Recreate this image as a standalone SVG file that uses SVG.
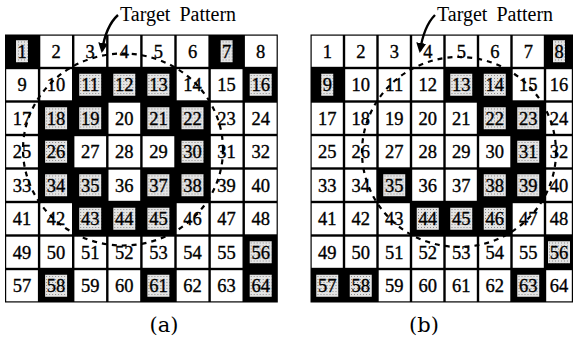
<svg xmlns="http://www.w3.org/2000/svg" width="574" height="351" viewBox="0 0 574 351">
<style>
.bg{fill:#000}
.w{fill:#fff}
.s{fill:url(#st)}
.n{font-family:"Liberation Serif","DejaVu Serif",serif;font-size:18.5px;text-anchor:middle;fill:#000;stroke:#000;stroke-width:0.35}
.lbl{font-family:"Liberation Serif","DejaVu Serif",serif;font-size:20px;fill:#000;word-spacing:4px}
.cap{font-family:"DejaVu Serif","Liberation Serif",serif;font-size:21px;text-anchor:middle;fill:#000}
.circ{fill:none;stroke:#000;stroke-width:2.2;stroke-dasharray:5 5}
.arr{fill:none;stroke:#000;stroke-width:2.4}
</style>
<defs>
<pattern id="st" width="3" height="3" patternUnits="userSpaceOnUse"><rect width="3" height="3" fill="#e4e4e4"/><rect x="1" y="1" width="1" height="1" fill="#8a8a8a"/></pattern>
<marker id="ah" viewBox="0 0 10 10" refX="8" refY="5" markerWidth="4.2" markerHeight="4.2" orient="auto" markerUnits="strokeWidth"><path d="M0,0 L10,5 L0,10 z" fill="#000"/></marker>
</defs>
<rect width="574" height="351" fill="#fff"/>

<!-- Grid (a) -->
<g id="gridA" transform="translate(5,34.5)">
<rect class="bg" width="272.8" height="268"/>
<g id="a1" transform="translate(0,0)"><rect class="s" x="11" y="5.75" width="12" height="22"/><text class="n" x="17" y="23">1</text></g>
<g id="a2" transform="translate(34.1,0)"><rect class="w" x="1.2" y="1.2" width="31.7" height="31.1"/><text class="n" x="17" y="23">2</text></g>
<g id="a3" transform="translate(68.2,0)"><rect class="w" x="1.2" y="1.2" width="31.7" height="31.1"/><text class="n" x="17" y="23">3</text></g>
<g id="a4" transform="translate(102.3,0)"><rect class="w" x="1.2" y="1.2" width="31.7" height="31.1"/><text class="n" x="17" y="23">4</text></g>
<g id="a5" transform="translate(136.4,0)"><rect class="w" x="1.2" y="1.2" width="31.7" height="31.1"/><text class="n" x="17" y="23">5</text></g>
<g id="a6" transform="translate(170.5,0)"><rect class="w" x="1.2" y="1.2" width="31.7" height="31.1"/><text class="n" x="17" y="23">6</text></g>
<g id="a7" transform="translate(204.6,0)"><rect class="s" x="11" y="5.75" width="12" height="22"/><text class="n" x="17" y="23">7</text></g>
<g id="a8" transform="translate(238.7,0)"><rect class="w" x="1.2" y="1.2" width="31.7" height="31.1"/><text class="n" x="17" y="23">8</text></g>

<g id="a9" transform="translate(0,33.5)"><rect class="w" x="1.2" y="1.2" width="31.7" height="31.1"/><text class="n" x="17" y="23">9</text></g>
<g id="a10" transform="translate(34.1,33.5)"><rect class="w" x="1.2" y="1.2" width="31.7" height="31.1"/><text class="n" x="17" y="23">10</text></g>
<g id="a11" transform="translate(68.2,33.5)"><rect class="s" x="6" y="5.75" width="22" height="22"/><text class="n" x="17" y="23">11</text></g>
<g id="a12" transform="translate(102.3,33.5)"><rect class="s" x="6" y="5.75" width="22" height="22"/><text class="n" x="17" y="23">12</text></g>
<g id="a13" transform="translate(136.4,33.5)"><rect class="s" x="6" y="5.75" width="22" height="22"/><text class="n" x="17" y="23">13</text></g>
<g id="a14" transform="translate(170.5,33.5)"><rect class="w" x="1.2" y="1.2" width="31.7" height="31.1"/><text class="n" x="17" y="23">14</text></g>
<g id="a15" transform="translate(204.6,33.5)"><rect class="w" x="1.2" y="1.2" width="31.7" height="31.1"/><text class="n" x="17" y="23">15</text></g>
<g id="a16" transform="translate(238.7,33.5)"><rect class="s" x="6" y="5.75" width="22" height="22"/><text class="n" x="17" y="23">16</text></g>

<g id="a17" transform="translate(0,67)"><rect class="w" x="1.2" y="1.2" width="31.7" height="31.1"/><text class="n" x="17" y="23">17</text></g>
<g id="a18" transform="translate(34.1,67)"><rect class="s" x="6" y="5.75" width="22" height="22"/><text class="n" x="17" y="23">18</text></g>
<g id="a19" transform="translate(68.2,67)"><rect class="s" x="6" y="5.75" width="22" height="22"/><text class="n" x="17" y="23">19</text></g>
<g id="a20" transform="translate(102.3,67)"><rect class="w" x="1.2" y="1.2" width="31.7" height="31.1"/><text class="n" x="17" y="23">20</text></g>
<g id="a21" transform="translate(136.4,67)"><rect class="s" x="6" y="5.75" width="22" height="22"/><text class="n" x="17" y="23">21</text></g>
<g id="a22" transform="translate(170.5,67)"><rect class="s" x="6" y="5.75" width="22" height="22"/><text class="n" x="17" y="23">22</text></g>
<g id="a23" transform="translate(204.6,67)"><rect class="w" x="1.2" y="1.2" width="31.7" height="31.1"/><text class="n" x="17" y="23">23</text></g>
<g id="a24" transform="translate(238.7,67)"><rect class="w" x="1.2" y="1.2" width="31.7" height="31.1"/><text class="n" x="17" y="23">24</text></g>

<g id="a25" transform="translate(0,100.5)"><rect class="w" x="1.2" y="1.2" width="31.7" height="31.1"/><text class="n" x="17" y="23">25</text></g>
<g id="a26" transform="translate(34.1,100.5)"><rect class="s" x="6" y="5.75" width="22" height="22"/><text class="n" x="17" y="23">26</text></g>
<g id="a27" transform="translate(68.2,100.5)"><rect class="w" x="1.2" y="1.2" width="31.7" height="31.1"/><text class="n" x="17" y="23">27</text></g>
<g id="a28" transform="translate(102.3,100.5)"><rect class="w" x="1.2" y="1.2" width="31.7" height="31.1"/><text class="n" x="17" y="23">28</text></g>
<g id="a29" transform="translate(136.4,100.5)"><rect class="w" x="1.2" y="1.2" width="31.7" height="31.1"/><text class="n" x="17" y="23">29</text></g>
<g id="a30" transform="translate(170.5,100.5)"><rect class="s" x="6" y="5.75" width="22" height="22"/><text class="n" x="17" y="23">30</text></g>
<g id="a31" transform="translate(204.6,100.5)"><rect class="w" x="1.2" y="1.2" width="31.7" height="31.1"/><text class="n" x="17" y="23">31</text></g>
<g id="a32" transform="translate(238.7,100.5)"><rect class="w" x="1.2" y="1.2" width="31.7" height="31.1"/><text class="n" x="17" y="23">32</text></g>

<g id="a33" transform="translate(0,134)"><rect class="w" x="1.2" y="1.2" width="31.7" height="31.1"/><text class="n" x="17" y="23">33</text></g>
<g id="a34" transform="translate(34.1,134)"><rect class="s" x="6" y="5.75" width="22" height="22"/><text class="n" x="17" y="23">34</text></g>
<g id="a35" transform="translate(68.2,134)"><rect class="s" x="6" y="5.75" width="22" height="22"/><text class="n" x="17" y="23">35</text></g>
<g id="a36" transform="translate(102.3,134)"><rect class="w" x="1.2" y="1.2" width="31.7" height="31.1"/><text class="n" x="17" y="23">36</text></g>
<g id="a37" transform="translate(136.4,134)"><rect class="s" x="6" y="5.75" width="22" height="22"/><text class="n" x="17" y="23">37</text></g>
<g id="a38" transform="translate(170.5,134)"><rect class="s" x="6" y="5.75" width="22" height="22"/><text class="n" x="17" y="23">38</text></g>
<g id="a39" transform="translate(204.6,134)"><rect class="w" x="1.2" y="1.2" width="31.7" height="31.1"/><text class="n" x="17" y="23">39</text></g>
<g id="a40" transform="translate(238.7,134)"><rect class="w" x="1.2" y="1.2" width="31.7" height="31.1"/><text class="n" x="17" y="23">40</text></g>

<g id="a41" transform="translate(0,167.5)"><rect class="w" x="1.2" y="1.2" width="31.7" height="31.1"/><text class="n" x="17" y="23">41</text></g>
<g id="a42" transform="translate(34.1,167.5)"><rect class="w" x="1.2" y="1.2" width="31.7" height="31.1"/><text class="n" x="17" y="23">42</text></g>
<g id="a43" transform="translate(68.2,167.5)"><rect class="s" x="6" y="5.75" width="22" height="22"/><text class="n" x="17" y="23">43</text></g>
<g id="a44" transform="translate(102.3,167.5)"><rect class="s" x="6" y="5.75" width="22" height="22"/><text class="n" x="17" y="23">44</text></g>
<g id="a45" transform="translate(136.4,167.5)"><rect class="s" x="6" y="5.75" width="22" height="22"/><text class="n" x="17" y="23">45</text></g>
<g id="a46" transform="translate(170.5,167.5)"><rect class="w" x="1.2" y="1.2" width="31.7" height="31.1"/><text class="n" x="17" y="23">46</text></g>
<g id="a47" transform="translate(204.6,167.5)"><rect class="w" x="1.2" y="1.2" width="31.7" height="31.1"/><text class="n" x="17" y="23">47</text></g>
<g id="a48" transform="translate(238.7,167.5)"><rect class="w" x="1.2" y="1.2" width="31.7" height="31.1"/><text class="n" x="17" y="23">48</text></g>

<g id="a49" transform="translate(0,201)"><rect class="w" x="1.2" y="1.2" width="31.7" height="31.1"/><text class="n" x="17" y="23">49</text></g>
<g id="a50" transform="translate(34.1,201)"><rect class="w" x="1.2" y="1.2" width="31.7" height="31.1"/><text class="n" x="17" y="23">50</text></g>
<g id="a51" transform="translate(68.2,201)"><rect class="w" x="1.2" y="1.2" width="31.7" height="31.1"/><text class="n" x="17" y="23">51</text></g>
<g id="a52" transform="translate(102.3,201)"><rect class="w" x="1.2" y="1.2" width="31.7" height="31.1"/><text class="n" x="17" y="23">52</text></g>
<g id="a53" transform="translate(136.4,201)"><rect class="w" x="1.2" y="1.2" width="31.7" height="31.1"/><text class="n" x="17" y="23">53</text></g>
<g id="a54" transform="translate(170.5,201)"><rect class="w" x="1.2" y="1.2" width="31.7" height="31.1"/><text class="n" x="17" y="23">54</text></g>
<g id="a55" transform="translate(204.6,201)"><rect class="w" x="1.2" y="1.2" width="31.7" height="31.1"/><text class="n" x="17" y="23">55</text></g>
<g id="a56" transform="translate(238.7,201)"><rect class="s" x="6" y="5.75" width="22" height="22"/><text class="n" x="17" y="23">56</text></g>

<g id="a57" transform="translate(0,234.5)"><rect class="w" x="1.2" y="1.2" width="31.7" height="31.1"/><text class="n" x="17" y="23">57</text></g>
<g id="a58" transform="translate(34.1,234.5)"><rect class="s" x="6" y="5.75" width="22" height="22"/><text class="n" x="17" y="23">58</text></g>
<g id="a59" transform="translate(68.2,234.5)"><rect class="w" x="1.2" y="1.2" width="31.7" height="31.1"/><text class="n" x="17" y="23">59</text></g>
<g id="a60" transform="translate(102.3,234.5)"><rect class="w" x="1.2" y="1.2" width="31.7" height="31.1"/><text class="n" x="17" y="23">60</text></g>
<g id="a61" transform="translate(136.4,234.5)"><rect class="s" x="6" y="5.75" width="22" height="22"/><text class="n" x="17" y="23">61</text></g>
<g id="a62" transform="translate(170.5,234.5)"><rect class="w" x="1.2" y="1.2" width="31.7" height="31.1"/><text class="n" x="17" y="23">62</text></g>
<g id="a63" transform="translate(204.6,234.5)"><rect class="w" x="1.2" y="1.2" width="31.7" height="31.1"/><text class="n" x="17" y="23">63</text></g>
<g id="a64" transform="translate(238.7,234.5)"><rect class="s" x="6" y="5.75" width="22" height="22"/><text class="n" x="17" y="23">64</text></g>
</g>

<!-- Grid (b) -->
<g id="gridB" transform="translate(310.5,34.5)">
<rect class="bg" width="262.5" height="268"/>
<g id="b1" transform="translate(0,0)"><rect class="w" x="1.2" y="1.2" width="31.1" height="31.1"/><text class="n" x="16.75" y="23">1</text></g>
<g id="b2" transform="translate(33.5,0)"><rect class="w" x="1.2" y="1.2" width="31.1" height="31.1"/><text class="n" x="16.75" y="23">2</text></g>
<g id="b3" transform="translate(67,0)"><rect class="w" x="1.2" y="1.2" width="31.1" height="31.1"/><text class="n" x="16.75" y="23">3</text></g>
<g id="b4" transform="translate(100.5,0)"><rect class="w" x="1.2" y="1.2" width="31.1" height="31.1"/><text class="n" x="16.75" y="23">4</text></g>
<g id="b5" transform="translate(134,0)"><rect class="w" x="1.2" y="1.2" width="31.1" height="31.1"/><text class="n" x="16.75" y="23">5</text></g>
<g id="b6" transform="translate(167.5,0)"><rect class="w" x="1.2" y="1.2" width="31.1" height="31.1"/><text class="n" x="16.75" y="23">6</text></g>
<g id="b7" transform="translate(201,0)"><rect class="w" x="1.2" y="1.2" width="31.1" height="31.1"/><text class="n" x="16.75" y="23">7</text></g>
<g id="b8" transform="translate(234.5,0)"><rect class="s" x="8" y="5.75" width="12" height="22"/><text class="n" x="14" y="23">8</text></g>

<g id="b9" transform="translate(0,33.5)"><rect class="s" x="10.75" y="5.75" width="12" height="22"/><text class="n" x="16.75" y="23">9</text></g>
<g id="b10" transform="translate(33.5,33.5)"><rect class="w" x="1.2" y="1.2" width="31.1" height="31.1"/><text class="n" x="16.75" y="23">10</text></g>
<g id="b11" transform="translate(67,33.5)"><rect class="w" x="1.2" y="1.2" width="31.1" height="31.1"/><text class="n" x="16.75" y="23">11</text></g>
<g id="b12" transform="translate(100.5,33.5)"><rect class="w" x="1.2" y="1.2" width="31.1" height="31.1"/><text class="n" x="16.75" y="23">12</text></g>
<g id="b13" transform="translate(134,33.5)"><rect class="s" x="5.75" y="5.75" width="22" height="22"/><text class="n" x="16.75" y="23">13</text></g>
<g id="b14" transform="translate(167.5,33.5)"><rect class="s" x="5.75" y="5.75" width="22" height="22"/><text class="n" x="16.75" y="23">14</text></g>
<g id="b15" transform="translate(201,33.5)"><rect class="w" x="1.2" y="1.2" width="31.1" height="31.1"/><text class="n" x="16.75" y="23">15</text></g>
<g id="b16" transform="translate(234.5,33.5)"><rect class="w" x="1.2" y="1.2" width="25.6" height="31.1"/><text class="n" x="14" y="23">16</text></g>

<g id="b17" transform="translate(0,67)"><rect class="w" x="1.2" y="1.2" width="31.1" height="31.1"/><text class="n" x="16.75" y="23">17</text></g>
<g id="b18" transform="translate(33.5,67)"><rect class="w" x="1.2" y="1.2" width="31.1" height="31.1"/><text class="n" x="16.75" y="23">18</text></g>
<g id="b19" transform="translate(67,67)"><rect class="w" x="1.2" y="1.2" width="31.1" height="31.1"/><text class="n" x="16.75" y="23">19</text></g>
<g id="b20" transform="translate(100.5,67)"><rect class="w" x="1.2" y="1.2" width="31.1" height="31.1"/><text class="n" x="16.75" y="23">20</text></g>
<g id="b21" transform="translate(134,67)"><rect class="w" x="1.2" y="1.2" width="31.1" height="31.1"/><text class="n" x="16.75" y="23">21</text></g>
<g id="b22" transform="translate(167.5,67)"><rect class="s" x="5.75" y="5.75" width="22" height="22"/><text class="n" x="16.75" y="23">22</text></g>
<g id="b23" transform="translate(201,67)"><rect class="s" x="5.75" y="5.75" width="22" height="22"/><text class="n" x="16.75" y="23">23</text></g>
<g id="b24" transform="translate(234.5,67)"><rect class="w" x="1.2" y="1.2" width="25.6" height="31.1"/><text class="n" x="14" y="23">24</text></g>

<g id="b25" transform="translate(0,100.5)"><rect class="w" x="1.2" y="1.2" width="31.1" height="31.1"/><text class="n" x="16.75" y="23">25</text></g>
<g id="b26" transform="translate(33.5,100.5)"><rect class="w" x="1.2" y="1.2" width="31.1" height="31.1"/><text class="n" x="16.75" y="23">26</text></g>
<g id="b27" transform="translate(67,100.5)"><rect class="w" x="1.2" y="1.2" width="31.1" height="31.1"/><text class="n" x="16.75" y="23">27</text></g>
<g id="b28" transform="translate(100.5,100.5)"><rect class="w" x="1.2" y="1.2" width="31.1" height="31.1"/><text class="n" x="16.75" y="23">28</text></g>
<g id="b29" transform="translate(134,100.5)"><rect class="w" x="1.2" y="1.2" width="31.1" height="31.1"/><text class="n" x="16.75" y="23">29</text></g>
<g id="b30" transform="translate(167.5,100.5)"><rect class="w" x="1.2" y="1.2" width="31.1" height="31.1"/><text class="n" x="16.75" y="23">30</text></g>
<g id="b31" transform="translate(201,100.5)"><rect class="s" x="5.75" y="5.75" width="22" height="22"/><text class="n" x="16.75" y="23">31</text></g>
<g id="b32" transform="translate(234.5,100.5)"><rect class="w" x="1.2" y="1.2" width="25.6" height="31.1"/><text class="n" x="14" y="23">32</text></g>

<g id="b33" transform="translate(0,134)"><rect class="w" x="1.2" y="1.2" width="31.1" height="31.1"/><text class="n" x="16.75" y="23">33</text></g>
<g id="b34" transform="translate(33.5,134)"><rect class="w" x="1.2" y="1.2" width="31.1" height="31.1"/><text class="n" x="16.75" y="23">34</text></g>
<g id="b35" transform="translate(67,134)"><rect class="s" x="5.75" y="5.75" width="22" height="22"/><text class="n" x="16.75" y="23">35</text></g>
<g id="b36" transform="translate(100.5,134)"><rect class="w" x="1.2" y="1.2" width="31.1" height="31.1"/><text class="n" x="16.75" y="23">36</text></g>
<g id="b37" transform="translate(134,134)"><rect class="w" x="1.2" y="1.2" width="31.1" height="31.1"/><text class="n" x="16.75" y="23">37</text></g>
<g id="b38" transform="translate(167.5,134)"><rect class="s" x="5.75" y="5.75" width="22" height="22"/><text class="n" x="16.75" y="23">38</text></g>
<g id="b39" transform="translate(201,134)"><rect class="s" x="5.75" y="5.75" width="22" height="22"/><text class="n" x="16.75" y="23">39</text></g>
<g id="b40" transform="translate(234.5,134)"><rect class="w" x="1.2" y="1.2" width="25.6" height="31.1"/><text class="n" x="14" y="23">40</text></g>

<g id="b41" transform="translate(0,167.5)"><rect class="w" x="1.2" y="1.2" width="31.1" height="31.1"/><text class="n" x="16.75" y="23">41</text></g>
<g id="b42" transform="translate(33.5,167.5)"><rect class="w" x="1.2" y="1.2" width="31.1" height="31.1"/><text class="n" x="16.75" y="23">42</text></g>
<g id="b43" transform="translate(67,167.5)"><rect class="w" x="1.2" y="1.2" width="31.1" height="31.1"/><text class="n" x="16.75" y="23">43</text></g>
<g id="b44" transform="translate(100.5,167.5)"><rect class="s" x="5.75" y="5.75" width="22" height="22"/><text class="n" x="16.75" y="23">44</text></g>
<g id="b45" transform="translate(134,167.5)"><rect class="s" x="5.75" y="5.75" width="22" height="22"/><text class="n" x="16.75" y="23">45</text></g>
<g id="b46" transform="translate(167.5,167.5)"><rect class="s" x="5.75" y="5.75" width="22" height="22"/><text class="n" x="16.75" y="23">46</text></g>
<g id="b47" transform="translate(201,167.5)"><rect class="w" x="1.2" y="1.2" width="31.1" height="31.1"/><text class="n" x="16.75" y="23">47</text></g>
<g id="b48" transform="translate(234.5,167.5)"><rect class="w" x="1.2" y="1.2" width="25.6" height="31.1"/><text class="n" x="14" y="23">48</text></g>

<g id="b49" transform="translate(0,201)"><rect class="w" x="1.2" y="1.2" width="31.1" height="31.1"/><text class="n" x="16.75" y="23">49</text></g>
<g id="b50" transform="translate(33.5,201)"><rect class="w" x="1.2" y="1.2" width="31.1" height="31.1"/><text class="n" x="16.75" y="23">50</text></g>
<g id="b51" transform="translate(67,201)"><rect class="w" x="1.2" y="1.2" width="31.1" height="31.1"/><text class="n" x="16.75" y="23">51</text></g>
<g id="b52" transform="translate(100.5,201)"><rect class="w" x="1.2" y="1.2" width="31.1" height="31.1"/><text class="n" x="16.75" y="23">52</text></g>
<g id="b53" transform="translate(134,201)"><rect class="w" x="1.2" y="1.2" width="31.1" height="31.1"/><text class="n" x="16.75" y="23">53</text></g>
<g id="b54" transform="translate(167.5,201)"><rect class="w" x="1.2" y="1.2" width="31.1" height="31.1"/><text class="n" x="16.75" y="23">54</text></g>
<g id="b55" transform="translate(201,201)"><rect class="w" x="1.2" y="1.2" width="31.1" height="31.1"/><text class="n" x="16.75" y="23">55</text></g>
<g id="b56" transform="translate(234.5,201)"><rect class="s" x="3" y="5.75" width="22" height="22"/><text class="n" x="14" y="23">56</text></g>

<g id="b57" transform="translate(0,234.5)"><rect class="s" x="5.75" y="5.75" width="22" height="22"/><text class="n" x="16.75" y="23">57</text></g>
<g id="b58" transform="translate(33.5,234.5)"><rect class="s" x="5.75" y="5.75" width="22" height="22"/><text class="n" x="16.75" y="23">58</text></g>
<g id="b59" transform="translate(67,234.5)"><rect class="w" x="1.2" y="1.2" width="31.1" height="31.1"/><text class="n" x="16.75" y="23">59</text></g>
<g id="b60" transform="translate(100.5,234.5)"><rect class="w" x="1.2" y="1.2" width="31.1" height="31.1"/><text class="n" x="16.75" y="23">60</text></g>
<g id="b61" transform="translate(134,234.5)"><rect class="w" x="1.2" y="1.2" width="31.1" height="31.1"/><text class="n" x="16.75" y="23">61</text></g>
<g id="b62" transform="translate(167.5,234.5)"><rect class="w" x="1.2" y="1.2" width="31.1" height="31.1"/><text class="n" x="16.75" y="23">62</text></g>
<g id="b63" transform="translate(201,234.5)"><rect class="s" x="5.75" y="5.75" width="22" height="22"/><text class="n" x="16.75" y="23">63</text></g>
<g id="b64" transform="translate(234.5,234.5)"><rect class="w" x="1.2" y="1.2" width="25.6" height="31.1"/><text class="n" x="14" y="23">64</text></g>
</g>

<!-- Connectors: target-pattern circles and pointer arrows -->
<g id="connectors">
<ellipse class="circ" cx="123" cy="149.5" rx="100" ry="96"/>
<ellipse class="circ" cx="459" cy="152" rx="97" ry="95"/>
<path class="arr" d="M118,15 C108,24 104,38 102,51" marker-end="url(#ah)"/>
<path class="arr" d="M435,15 C426,24 422,38 420,51" marker-end="url(#ah)"/>
</g>

<g id="labels">
<text class="lbl" x="120" y="21">Target Pattern</text>
<text class="lbl" x="437" y="21">Target Pattern</text>
<text class="cap" x="164" y="332">(a)</text>
<text class="cap" x="424" y="332">(b)</text>
</g>
</svg>
